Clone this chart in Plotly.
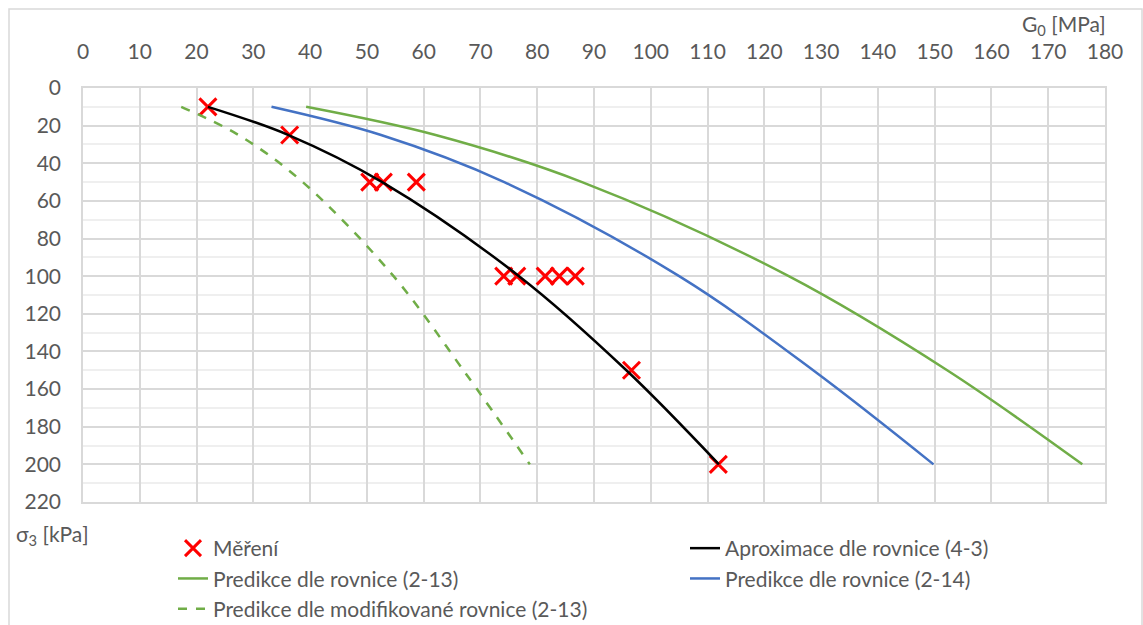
import plotly.graph_objects as go

# Measured points (Měření)
meas_g = [22, 36.4, 50.5, 52.9, 58.7, 74.1, 76.4, 81.4, 83.9, 86.7, 96.6, 111.9]
meas_s = [10, 25, 50, 50, 50, 100, 100, 100, 100, 100, 150, 200]

# Curves, sampled at stress levels
curve_s = [10, 25, 50, 100, 150, 200]
aprox_g = [22.0, 36.2, 52.7, 76.8, 95.7, 112.0]
pred213_g = [39.3, 62.1, 87.9, 124.3, 152.2, 176.0]
pred214_g = [33.2, 52.5, 74.2, 105.0, 128.6, 149.8]
predmod_g = [17.3, 27.4, 38.7, 54.7, 67.0, 78.7]

FONT = "Lato"
FS = 21
TXT = "#595959"
GRID = "#d9d9d9"

L, R, T, B = 83, 38, 88, 123
W, H = 1143, 625
pw, ph = W - L - R, H - T - B


def px_x(p):
    return (p - L) / pw


def px_y(p):
    return (H - B - p) / ph


fig = go.Figure()
fig.add_trace(go.Scatter(x=meas_g, y=meas_s, mode="markers", name="Měření", legend="legend",
                         marker=dict(symbol="x-thin", size=17, color="#ff0000",
                                     line=dict(color="#ff0000", width=3))))
fig.add_trace(go.Scatter(x=aprox_g, y=curve_s, mode="lines", name="Aproximace dle rovnice (4-3)",
                         legend="legend2",
                         line=dict(color="#000000", width=2.5, shape="spline")))
fig.add_trace(go.Scatter(x=pred213_g, y=curve_s, mode="lines", name="Predikce dle rovnice (2-13)",
                         legend="legend",
                         line=dict(color="#70ad47", width=2.5, shape="spline")))
fig.add_trace(go.Scatter(x=pred214_g, y=curve_s, mode="lines", name="Predikce dle rovnice (2-14)",
                         legend="legend2",
                         line=dict(color="#4472c4", width=2.5, shape="spline")))
fig.add_trace(go.Scatter(x=predmod_g, y=curve_s, mode="lines", name="Predikce dle modifikované rovnice (2-13)",
                         legend="legend",
                         line=dict(color="#70ad47", width=2.5, dash="dash", shape="spline")))

leg_common = dict(orientation="v", xanchor="left", yanchor="top",
                  font=dict(family=FONT, size=FS, color=TXT),
                  tracegroupgap=0, itemwidth=30, bgcolor="rgba(0,0,0,0)",
                  traceorder="normal")

fig.update_layout(
    width=W, height=H,
    margin=dict(l=L, r=R, t=T, b=B, autoexpand=False),
    paper_bgcolor="white", plot_bgcolor="white",
    font=dict(family=FONT, size=FS, color=TXT),
    showlegend=True,
    legend=dict(x=px_x(173), y=px_y(528), **leg_common),
    legend2=dict(x=px_x(685), y=px_y(528), **leg_common),
    xaxis=dict(side="top", range=[0, 180], dtick=10, tick0=0,
               showgrid=True, gridcolor=GRID, gridwidth=1.5,
               showline=True, linecolor=GRID, linewidth=1.5, mirror=True,
               zeroline=False, ticks="", ticklabelstandoff=19,
               tickfont=dict(family=FONT, size=FS, color=TXT)),
    yaxis=dict(range=[220, 0], dtick=20, tick0=0,
               showgrid=True, gridcolor=GRID, gridwidth=1.5,
               minor=dict(dtick=10, showgrid=True, gridcolor="#efefef", gridwidth=1.5),
               showline=True, linecolor=GRID, linewidth=1.5, mirror=True,
               zeroline=False, ticks="", ticklabelstandoff=16,
               tickfont=dict(family=FONT, size=FS, color=TXT)),
    annotations=[
        dict(text="G<sub>0</sub> [MPa]", xref="paper", yref="paper",
             x=px_x(1108), y=px_y(25), xanchor="right", yanchor="middle",
             showarrow=False, font=dict(family=FONT, size=FS, color=TXT)),
        dict(text="σ<sub>3</sub> [kPa]", xref="paper", yref="paper",
             x=px_x(14), y=px_y(535), xanchor="left", yanchor="middle",
             showarrow=False, font=dict(family=FONT, size=FS, color=TXT)),
    ],
    shapes=[dict(type="rect", xref="paper", yref="paper",
                 x0=px_x(9), x1=px_x(1142), y0=px_y(640), y1=px_y(9),
                 line=dict(color=GRID, width=1.5), fillcolor="rgba(0,0,0,0)", layer="below")],
)

fig.write_html("out.html", config={"displayModeBar": False},
               post_script="document.body.style.margin='0px';")
